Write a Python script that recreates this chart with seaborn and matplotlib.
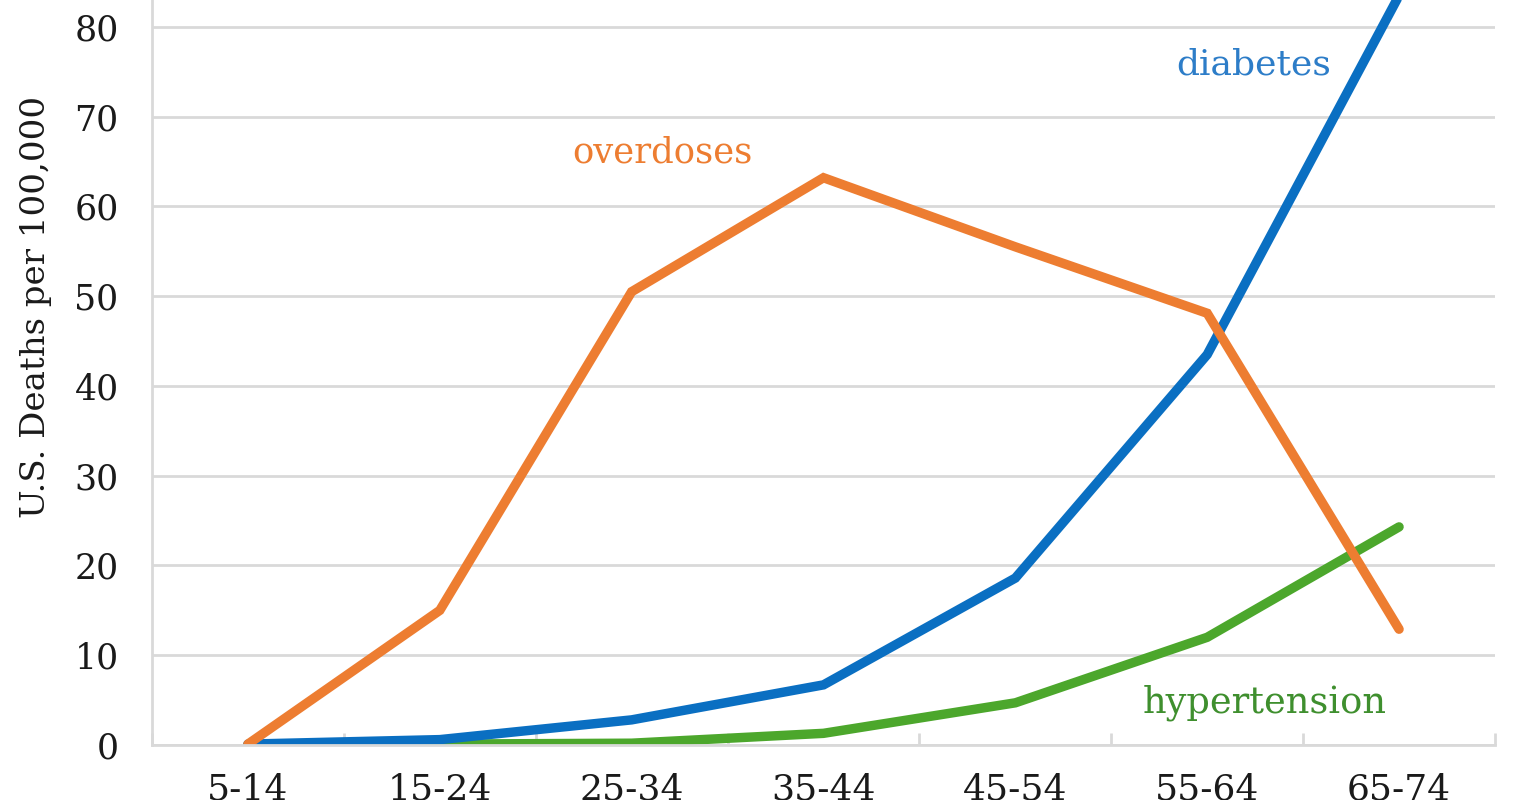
import pandas as pd
import matplotlib
matplotlib.use("Agg")
import matplotlib.pyplot as plt
from matplotlib.ticker import FixedLocator
import seaborn as sns

# age groups and death rates per 100,000
AGE_GROUPS = ["5-14", "15-24", "25-34", "35-44", "45-54", "55-64", "65-74"]
OVERDOSES = [0.1, 15.0, 50.5, 63.2, 55.5, 48.1, 12.9]
DIABETES = [0.1, 0.6, 2.8, 6.7, 18.6, 43.5, 83.5]
HYPERTENSION = [0.0, 0.1, 0.2, 1.3, 4.7, 12.0, 24.3]

COLORS = {"overdoses": "#ED7D31", "diabetes": "#0A6FC2", "hypertension": "#4CA72C"}
TEXT_COLORS = {"overdoses": "#ED7D31", "diabetes": "#2D7DC8", "hypertension": "#3F8F2E"}

sns.set_theme(style="white")
plt.rcParams["font.family"] = ["DejaVu Serif"]

rows = []
for name, vals in [("overdoses", OVERDOSES), ("diabetes", DIABETES), ("hypertension", HYPERTENSION)]:
    for age, v in zip(AGE_GROUPS, vals):
        rows.append({"Age": age, "Cause": name, "Rate": v})
df = pd.DataFrame(rows)

fig = plt.figure(figsize=(15.28, 8.0), dpi=100)
ax = fig.add_axes([152 / 1528, 55 / 800, (1495 - 152) / 1528, 745 / 800])

sns.lineplot(data=df, x="Age", y="Rate", hue="Cause", palette=COLORS,
             linewidth=6.8, sort=False, legend=False, ax=ax,
             hue_order=["hypertension", "diabetes", "overdoses"])
for line in ax.get_lines():
    line.set_solid_capstyle("round")
    line.set_solid_joinstyle("miter")

ax.set_xlim(-0.5, len(AGE_GROUPS) - 0.5)
ax.set_ylim(0, 83.0)
ax.set_yticks(range(0, 81, 10))
ax.yaxis.grid(True, color="#D9D9D9", linewidth=2)
ax.set_axisbelow(True)

# category boundary ticks on the x axis
ax.set_xticks(range(len(AGE_GROUPS)))
ax.set_xticklabels(AGE_GROUPS)
ax.xaxis.set_minor_locator(FixedLocator([i - 0.5 for i in range(len(AGE_GROUPS) + 1)]))
ax.tick_params(axis="x", which="major", length=0, pad=20, labelsize=26, colors="#1a1a1a")
ax.tick_params(axis="x", which="minor", length=9, width=2, direction="in", color="#D9D9D9", bottom=True)
ax.tick_params(axis="y", length=0, pad=24, labelsize=25, colors="#1a1a1a")

for side in ["top", "right"]:
    ax.spines[side].set_visible(False)
for side in ["left", "bottom"]:
    ax.spines[side].set_color("#D9D9D9")
    ax.spines[side].set_linewidth(2)

ax.set_xlabel("")
ax.set_ylabel("U.S. Deaths per 100,000", fontsize=24.5, color="#1a1a1a")
ax.yaxis.set_label_coords(-100 / 1343, (745 - 307) / 745)

ax.text(5.24, 75.8, "diabetes", color=TEXT_COLORS["diabetes"], fontsize=26,
        ha="center", va="center")
ax.text(2.16, 66.0, "overdoses", color=TEXT_COLORS["overdoses"], fontsize=25.5,
        ha="center", va="center")
ax.text(5.30, 4.7, "hypertension", color=TEXT_COLORS["hypertension"], fontsize=26.5,
        ha="center", va="center")

fig.savefig("out.png", dpi=100)
